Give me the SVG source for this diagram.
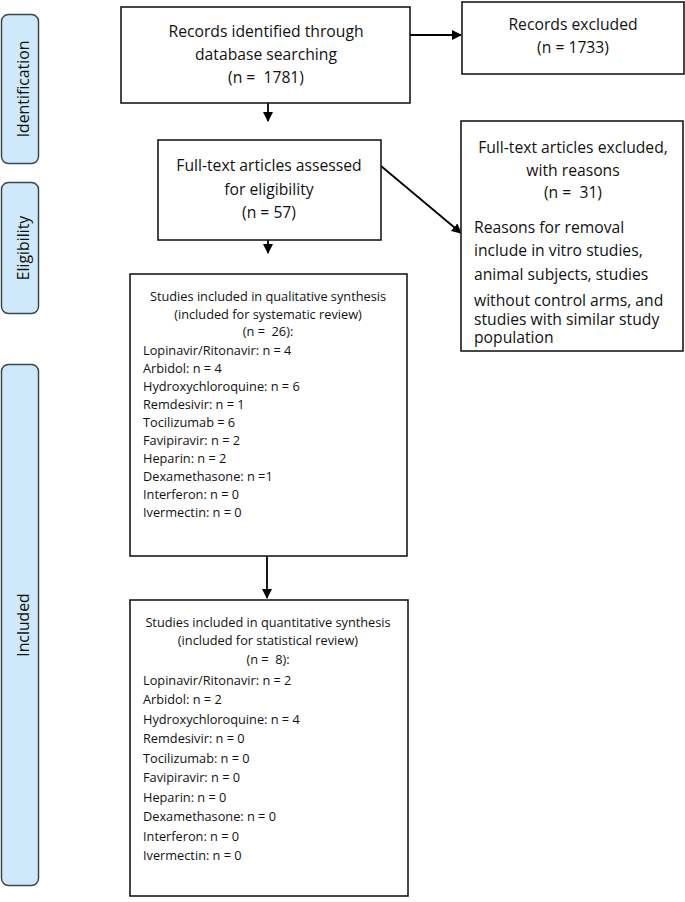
<svg xmlns="http://www.w3.org/2000/svg" width="685" height="902" viewBox="0 0 685 902">
<style>
.pill{fill:#cfe9fb;stroke:#3c4650;stroke-width:1.5}
.box{fill:#ffffff;stroke:#1a1a1a;stroke-width:1.6}
.t{font-family:"Open Sans","Liberation Sans",sans-serif;fill:#111;white-space:pre}
.big{font-size:15.7px}
.sm{font-size:12.75px}
.lab{font-family:"Open Sans","Liberation Sans",sans-serif;font-size:15.8px;fill:#111}
.c{text-anchor:middle}
.ln{stroke:#000;stroke-width:1.8;fill:none}
</style>
<defs>
<marker id="ah" viewBox="0 0 10 10" refX="9" refY="5" markerWidth="10" markerHeight="10" markerUnits="userSpaceOnUse" orient="auto">
<path d="M0,0 L10,5 L0,10 z" fill="#000"/>
</marker>
</defs>
<rect width="685" height="902" fill="#fff"/>
<g id="phase-identification">
<rect class="pill" x="1.5" y="14.5" width="37" height="149" rx="7"/>
<text class="lab c" transform="translate(29,89) rotate(-90)">Identification</text>
</g>
<g id="phase-eligibility">
<rect class="pill" x="1.5" y="182.5" width="37" height="131" rx="7"/>
<text class="lab c" transform="translate(29,248) rotate(-90)">Eligibility</text>
</g>
<g id="phase-included">
<rect class="pill" x="1.5" y="364.5" width="37" height="521" rx="7"/>
<text class="lab c" transform="translate(29,625) rotate(-90)">Included</text>
</g>
<g id="connectors">
<line class="ln" x1="410" y1="35" x2="461" y2="35" marker-end="url(#ah)"/>
<line class="ln" x1="268" y1="76" x2="268" y2="121" marker-end="url(#ah)"/>
<line class="ln" x1="381" y1="166" x2="461" y2="233" marker-end="url(#ah)"/>
<line class="ln" x1="268" y1="214" x2="268" y2="253" marker-end="url(#ah)"/>
<line class="ln" x1="267" y1="556" x2="267" y2="598" marker-end="url(#ah)"/>
</g>
<g id="records-identified">
<rect class="box" x="121" y="7" width="289" height="96"/>
<text class="t big c" x="266" y="37">Records identified through</text>
<text class="t big c" x="266" y="60">database searching</text>
<text class="t big c" x="266" y="83">(n =  1781)</text>
</g>
<g id="records-excluded">
<rect class="box" x="462" y="2" width="222" height="72"/>
<text class="t big c" x="573" y="30">Records excluded</text>
<text class="t big c" x="573" y="53">(n = 1733)</text>
</g>
<g id="fulltext-assessed">
<rect class="box" x="158" y="140" width="223" height="100"/>
<text class="t big c" x="269" y="171">Full-text articles assessed</text>
<text class="t big c" x="269" y="195">for eligibility</text>
<text class="t big c" x="269" y="218">(n = 57)</text>
</g>
<g id="fulltext-excluded">
<rect class="box" x="461" y="121" width="222" height="230"/>
<text class="t big c" x="573" y="153">Full-text articles excluded,</text>
<text class="t big c" x="573" y="176">with reasons</text>
<text class="t big c" x="573" y="198">(n =  31)</text>
<text class="t big" x="474" y="233">Reasons for removal</text>
<text class="t big" x="474" y="256">include in vitro studies,</text>
<text class="t big" x="474" y="280">animal subjects, studies</text>
<text class="t big" x="474" y="306">without control arms, and</text>
<text class="t big" x="474" y="325">studies with similar study</text>
<text class="t big" x="474" y="343">population</text>
</g>
<g id="qualitative">
<rect class="box" x="130" y="274" width="277" height="282"/>
<text class="t sm c" x="268" y="301">Studies included in qualitative synthesis</text>
<text class="t sm c" x="268" y="319">(included for systematic review)</text>
<text class="t sm c" x="268" y="336">(n =  26):</text>
<text class="t sm" x="143" y="355">Lopinavir/Ritonavir: n = 4</text>
<text class="t sm" x="143" y="373">Arbidol: n = 4</text>
<text class="t sm" x="143" y="391">Hydroxychloroquine: n = 6</text>
<text class="t sm" x="143" y="409">Remdesivir: n = 1</text>
<text class="t sm" x="143" y="427">Tocilizumab = 6</text>
<text class="t sm" x="143" y="445">Favipiravir: n = 2</text>
<text class="t sm" x="143" y="463">Heparin: n = 2</text>
<text class="t sm" x="143" y="481">Dexamethasone: n =1</text>
<text class="t sm" x="143" y="499">Interferon: n = 0</text>
<text class="t sm" x="143" y="517">Ivermectin: n = 0</text>
</g>
<g id="quantitative">
<rect class="box" x="130" y="600" width="278" height="296"/>
<text class="t sm c" x="268" y="627">Studies included in quantitative synthesis</text>
<text class="t sm c" x="268" y="645">(included for statistical review)</text>
<text class="t sm c" x="268" y="664">(n =  8):</text>
<text class="t sm" x="143" y="685">Lopinavir/Ritonavir: n = 2</text>
<text class="t sm" x="143" y="704">Arbidol: n = 2</text>
<text class="t sm" x="143" y="724">Hydroxychloroquine: n = 4</text>
<text class="t sm" x="143" y="743">Remdesivir: n = 0</text>
<text class="t sm" x="143" y="763">Tocilizumab: n = 0</text>
<text class="t sm" x="143" y="782">Favipiravir: n = 0</text>
<text class="t sm" x="143" y="802">Heparin: n = 0</text>
<text class="t sm" x="143" y="821">Dexamethasone: n = 0</text>
<text class="t sm" x="143" y="841">Interferon: n = 0</text>
<text class="t sm" x="143" y="860">Ivermectin: n = 0</text>
</g>
</svg>
